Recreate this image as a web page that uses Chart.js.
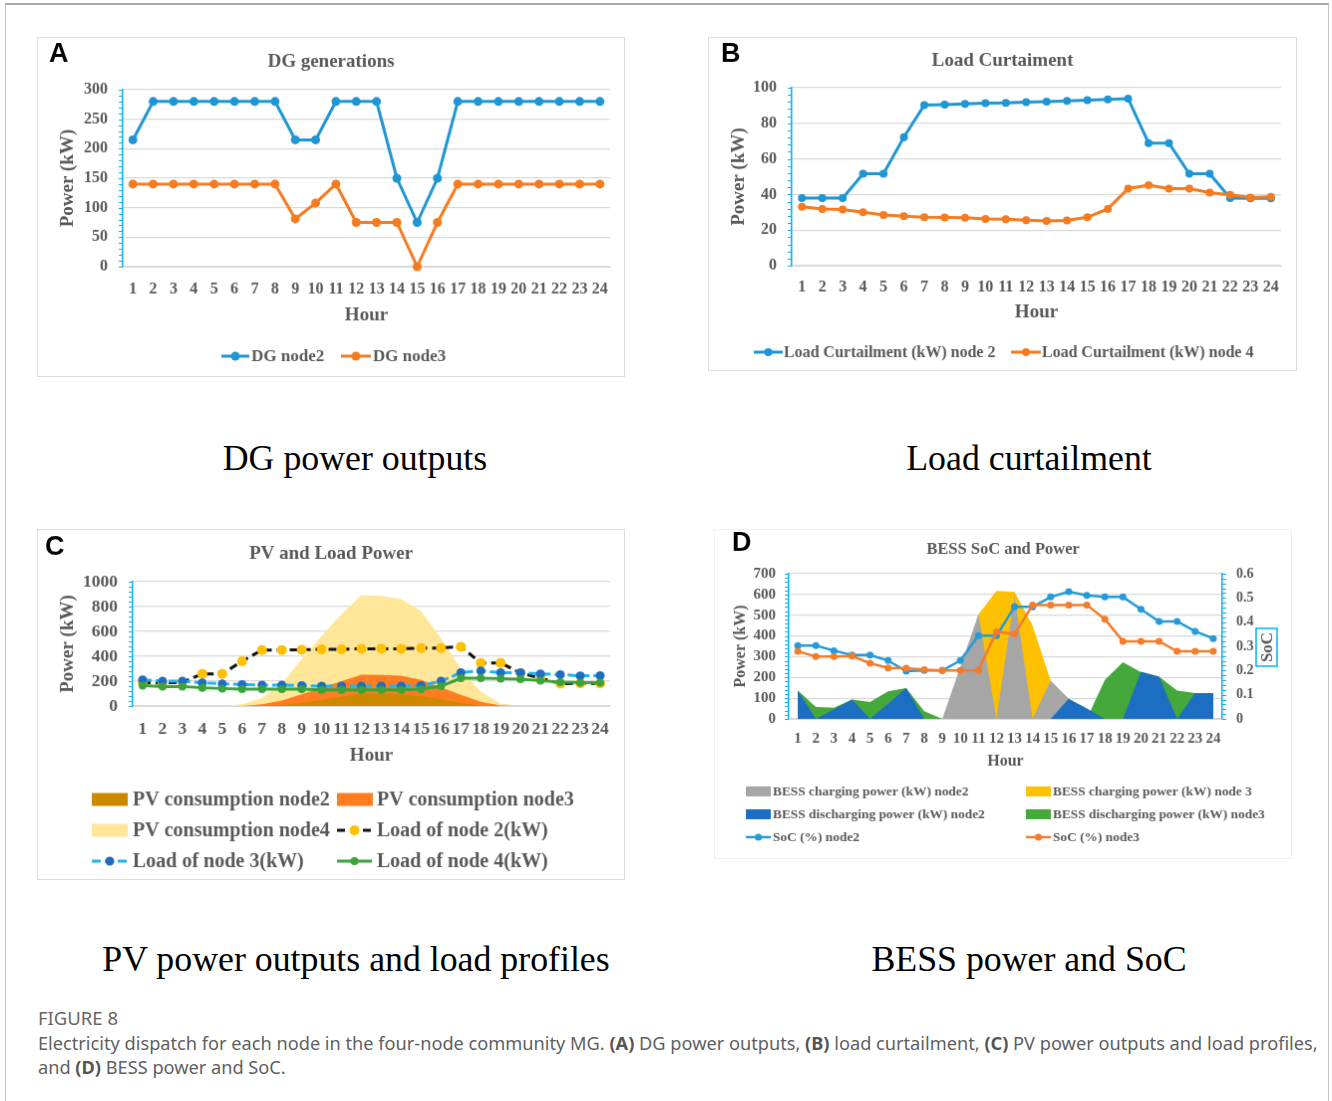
<!DOCTYPE html>
<html lang="en">
<head>
  <meta charset="UTF-8">
  <title>Electricity dispatch - four-node community MG</title>
  <script src="https://cdn.jsdelivr.net/npm/chart.js"></script>
  <style>
    body { margin: 0; background: #fff; font-family: "Liberation Serif", "Times New Roman", serif; }
    .page { position: relative; width: 1332px; height: 1101px; overflow: hidden; }
    .frame { position: absolute; left: 5px; top: 3px; width: 1322px; height: 1110px; border: 1px solid #c4c4c4; border-top: 2px solid #a9a9a9; }
    canvas.panel { position: absolute; border: 1px solid #dcdcdc; }
    #chartD { border-color: #f1f1f1; }
    .sub { position: absolute; font-size: 35.8px; color: #000; white-space: nowrap; transform: translate(-50%, -50%); }
    .caption { position: absolute; left: 38px; top: 1006px; font-family: "Noto Sans", sans-serif; color: #5f5f5f; font-size: 18.2px; line-height: 24.5px; white-space: nowrap; }
    .caption .fig { font-size: 18.5px; color: #666; }
    .caption b { color: #555; }
  </style>
</head>
<body>
<div class="page">
  <div class="frame"></div>

  <canvas id="chartA" class="panel" width="588" height="340" style="left:37px; top:37px"></canvas>
  <canvas id="chartB" class="panel" width="589" height="334" style="left:708px; top:37px"></canvas>
  <canvas id="chartC" class="panel" width="588" height="351" style="left:37px; top:529px"></canvas>
  <canvas id="chartD" class="panel" width="578" height="330" style="left:714px; top:529px"></canvas>

  <div class="sub" style="left:355px; top:458px">DG power outputs</div>
  <div class="sub" style="left:1029px; top:458px">Load curtailment</div>
  <div class="sub" style="left:356px; top:959px">PV power outputs and load profiles</div>
  <div class="sub" style="left:1029px; top:959px">BESS power and SoC</div>

  <div class="caption">
    <div class="fig">FIGURE 8</div>
    <div>Electricity dispatch for each node in the four-node community MG. <b>(A)</b> DG power outputs, <b>(B)</b> load curtailment, <b>(C)</b> PV power outputs and load profiles,</div>
    <div>and <b>(D)</b> BESS power and SoC.</div>
  </div>
</div>

<script>
  // ---- data (hourly, 24 h) ----
  const hours = ['1','2','3','4','5','6','7','8','9','10','11','12','13','14','15','16','17','18','19','20','21','22','23','24'];

  // DG output (kW)
  const dgNode2 = [215,280,280,280,280,280,280,280,215,215,280,280,280,150,75,150,280,280,280,280,280,280,280,280];
  const dgNode3 = [140,140,140,140,140,140,140,140,81,108,140,75,75,75,0,75,140,140,140,140,140,140,140,140];

  // load curtailment (kW)
  const curtNode2 = [38,38,38,51.7,51.7,72.2,90.2,90.5,90.9,91.4,91.5,91.9,92.2,92.6,93,93.5,93.9,68.9,68.9,51.7,51.7,38,37.8,37.8];
  const curtNode4 = [33.1,31.9,31.5,30,28.5,27.8,27.2,27.1,27,26.3,26.1,25.6,25.2,25.4,27.2,31.9,43.3,45.2,43.3,43.3,41.1,39.8,38.3,38.7];

  // PV consumption and load (kW)
  const pvNode2 = [0,0,0,0,0,0,0,10,25,48,75,100,100,95,80,55,25,0,0,0,0,0,0,0];
  const pvNode3 = [0,0,0,0,0,0,15,45,95,150,200,252,250,245,210,150,90,35,5,0,0,0,0,0];
  const pvNode4 = [0,0,0,0,0,15,65,180,380,565,740,893,887,860,765,545,300,117,20,0,0,0,0,0];
  const loadNode2 = [188,186,190,259,259,360,451,451,453,456,456,461,461,461,467,467,477,347,347,265,225,180,182,182];
  const loadNode3 = [211,200,200,187,179,173,168,168,165,160,160,160,160,160,165,200,269,283,269,269,259,253,243,245];
  const loadNode4 = [165,157,157,147,141,136,136,136,136,131,131,131,131,131,136,160,224,224,221,216,205,192,189,189];

  // BESS power (kW) and state of charge
  const chargeNode2 = [0,0,0,0,0,0,0,0,0,252,505,0,590,0,185,97,0,0,0,0,0,0,0,0];
  const chargeNode3 = [0,0,0,0,0,0,0,0,0,0,505,617,612,449,185,0,0,0,0,0,0,0,0,0];
  const dischargeNode2 = [137,0,45,93,0,73,149,0,0,0,0,0,0,0,0,97,50,0,0,228,204,0,125,125];
  const dischargeNode3 = [137,57,54,93,81,133,149,37,0,0,0,0,0,0,0,0,0,188,273,225,204,137,125,125];
  const socNode2 = [0.303,0.303,0.282,0.264,0.264,0.241,0.197,0.2,0.2,0.241,0.344,0.344,0.463,0.463,0.504,0.526,0.511,0.504,0.504,0.453,0.403,0.403,0.362,0.332];
  const socNode3 = [0.279,0.258,0.258,0.26,0.23,0.211,0.21,0.203,0.2,0.2,0.2,0.36,0.351,0.471,0.471,0.471,0.471,0.412,0.321,0.321,0.321,0.279,0.279,0.279];

  // ---- styling helpers ----
  const SERIF = '"Liberation Serif", "Times New Roman", serif';
  const GREY = '#595959';
  const CYAN = '#00b0f0';
  const GRID = '#d9d9d9';

  Chart.defaults.font.family = SERIF;
  Chart.defaults.animation = false;

  function bold(size) { return { family: SERIF, size: size, weight: 'bold' }; }

  function hourAxis(o) {
    return {
      offset: true,
      grid: { display: false, drawTicks: false },
      border: { color: GRID, width: 1 },
      ticks: { color: GREY, font: bold(o.tick), padding: o.tickPad, autoSkip: false, maxRotation: 0 },
      title: { display: true, text: 'Hour', color: GREY, font: bold(o.title), padding: { top: 0, bottom: o.titlePad } },
      afterFit: s => { s.height = o.height; }
    };
  }

  function valueAxis(o) {
    return {
      position: o.position || 'left',
      min: 0, max: o.max,
      ticks: {
        stepSize: o.step, color: GREY, font: bold(o.tick), padding: o.tickPad, autoSkip: false,
        callback: v => String(Math.round(v * 10) / 10)
      },
      grid: { display: o.grid !== false, color: GRID, lineWidth: 1.2, drawTicks: false },
      border: { color: CYAN, width: 1.5 },
      title: { display: !!o.title, text: o.title || '', color: GREY, font: bold(o.titleSize || 19), padding: { top: o.titlePad || 0, bottom: 0 } },
      afterFit: s => { s.width = o.width; }
    };
  }

  function lineSet(label, data, color, o) {
    o = o || {};
    const mk = o.marker || color;
    return {
      type: 'line', label: label, data: data,
      borderColor: color, backgroundColor: mk,
      pointBackgroundColor: mk, pointBorderColor: mk, pointBorderWidth: 0,
      borderWidth: o.width || 3, pointRadius: o.radius || 4, borderDash: o.dash || [],
      tension: 0, fill: false, clip: false, order: o.order || 0, yAxisID: o.axis || 'y'
    };
  }

  function areaSet(label, data, color, order) {
    return {
      type: 'line', label: label, data: data,
      borderColor: color, backgroundColor: color, borderWidth: 0,
      pointRadius: 0, fill: 'origin', tension: 0, clip: false, order: order, yAxisID: 'y'
    };
  }

  // panel letter, title, axis minor ticks, SoC box and the grid legend
  const panelDecor = {
    id: 'panelDecor',
    afterDraw(chart, args, opts) {
      const ctx = chart.ctx;
      ctx.save();

      ctx.fillStyle = '#000';
      ctx.font = 'bold 27px "Liberation Sans", Arial, sans-serif';
      ctx.textAlign = 'left';
      ctx.textBaseline = 'alphabetic';
      ctx.fillText(opts.letter, opts.letterX, opts.letterY);

      ctx.fillStyle = GREY;
      ctx.font = 'bold ' + opts.titleSize + 'px ' + SERIF;
      ctx.textAlign = 'center';
      ctx.textBaseline = 'middle';
      ctx.fillText(opts.title, chart.width / 2, opts.titleY);

      // small ticks along the value axes
      (opts.minor || []).forEach(m => {
        const s = chart.scales[m.axis];
        const step = s.ticks[1].value - s.ticks[0].value;
        const x = m.side === 'left' ? chart.chartArea.left : chart.chartArea.right;
        const dir = m.side === 'left' ? -1 : 1;
        ctx.beginPath();
        ctx.strokeStyle = CYAN;
        ctx.lineWidth = 1;
        ctx.setLineDash([]);
        const n = Math.round((s.max - s.min) / step) * 5;
        for (let i = 0; i <= n; i++) {
          const y = Math.round(s.getPixelForValue(s.min + i * step / 5)) + 0.5;
          ctx.moveTo(x, y);
          ctx.lineTo(x + dir * 4, y);
        }
        ctx.stroke();
      });

      if (opts.sideTitle) {
        const t = opts.sideTitle;
        ctx.strokeStyle = CYAN;
        ctx.lineWidth = 1.5;
        ctx.strokeRect(t.x - t.w / 2, t.y - t.h / 2, t.w, t.h);
        ctx.translate(t.x, t.y);
        ctx.rotate(-Math.PI / 2);
        ctx.fillStyle = GREY;
        ctx.font = 'bold ' + t.size + 'px ' + SERIF;
        ctx.fillText(t.text, 0, 1);
        ctx.setTransform(1, 0, 0, 1, 0, 0);
      }

      const lg = opts.legend;
      ctx.font = 'bold ' + lg.size + 'px ' + SERIF;
      ctx.textAlign = 'left';
      ctx.textBaseline = 'middle';
      lg.items.forEach(it => {
        const ds = chart.data.datasets[it.ds];
        if (ds.fill) {
          ctx.fillStyle = ds.backgroundColor;
          ctx.fillRect(it.x, it.y - lg.boxH / 2, it.w, lg.boxH);
        } else {
          ctx.beginPath();
          ctx.strokeStyle = ds.borderColor;
          ctx.lineWidth = ds.borderWidth;
          ctx.setLineDash(ds.borderDash || []);
          ctx.moveTo(it.x, it.y);
          ctx.lineTo(it.x + it.w, it.y);
          ctx.stroke();
          ctx.setLineDash([]);
          ctx.beginPath();
          ctx.fillStyle = ds.pointBackgroundColor;
          ctx.arc(it.x + it.w / 2, it.y, ds.pointRadius, 0, Math.PI * 2);
          ctx.fill();
        }
        ctx.fillStyle = GREY;
        ctx.fillText(ds.label, it.tx, it.y + 1);
      });

      ctx.restore();
    }
  };

  const baseOptions = {
    responsive: false,
    plugins: { legend: { display: false }, tooltip: { enabled: false } }
  };

  // ---- A: DG generations ----
  new Chart(document.getElementById('chartA'), {
    type: 'line',
    data: {
      labels: hours,
      datasets: [
        lineSet('DG node2', dgNode2, '#1f96d4', { radius: 4.5, order: 1 }),
        lineSet('DG node3', dgNode3, '#f57b20', { radius: 4.5, order: 0 })
      ]
    },
    options: Object.assign({}, baseOptions, {
      layout: { padding: { top: 52, right: 14, bottom: 50, left: 0 } },
      scales: {
        x: hourAxis({ tick: 16, tickPad: 13, title: 19, titlePad: 0, height: 60 }),
        y: valueAxis({ max: 300, step: 50, tick: 16, tickPad: 15, title: 'Power (kW)', titleSize: 19, titlePad: 18.6, width: 85 })
      },
      plugins: Object.assign({}, baseOptions.plugins, {
        panelDecor: {
          letter: 'A', letterX: 11, letterY: 24,
          title: 'DG generations', titleSize: 19, titleY: 24,
          minor: [{ axis: 'y', side: 'left' }],
          legend: { size: 17, boxH: 12, items: [
            { ds: 0, x: 184, y: 320, w: 28, tx: 214 },
            { ds: 1, x: 304, y: 320, w: 30, tx: 336 }
          ] }
        }
      })
    }),
    plugins: [panelDecor]
  });

  // ---- B: load curtailment ----
  new Chart(document.getElementById('chartB'), {
    type: 'line',
    data: {
      labels: hours,
      datasets: [
        lineSet('Load Curtailment (kW) node 2', curtNode2, '#1f96d4', { radius: 4, order: 1 }),
        lineSet('Load Curtailment (kW) node 4', curtNode4, '#f57b20', { radius: 4, order: 0 })
      ]
    },
    options: Object.assign({}, baseOptions, {
      layout: { padding: { top: 50, right: 15, bottom: 45, left: 0 } },
      scales: {
        x: hourAxis({ tick: 16, tickPad: 12.4, title: 19, titlePad: 1.6, height: 60 }),
        y: valueAxis({ max: 100, step: 20, tick: 16, tickPad: 15, title: 'Power (kW)', titleSize: 19, titlePad: 18.6, width: 83 })
      },
      plugins: Object.assign({}, baseOptions.plugins, {
        panelDecor: {
          letter: 'B', letterX: 12, letterY: 24,
          title: 'Load Curtaiment', titleSize: 19, titleY: 23,
          minor: [{ axis: 'y', side: 'left' }],
          legend: { size: 16, boxH: 12, items: [
            { ds: 0, x: 45, y: 316, w: 29, tx: 75 },
            { ds: 1, x: 303, y: 316, w: 30, tx: 334 }
          ] }
        }
      })
    }),
    plugins: [panelDecor]
  });

  // ---- C: PV and load power ----
  new Chart(document.getElementById('chartC'), {
    type: 'line',
    data: {
      labels: hours,
      datasets: [
        areaSet('PV consumption node2', pvNode2, '#cc8900', 3),
        areaSet('PV consumption node3', pvNode3, '#ff7c1f', 4),
        areaSet('PV consumption node4', pvNode4, '#ffe699', 5),
        lineSet('Load of node 2(kW)', loadNode2, '#111111', { marker: '#ffc000', radius: 5, dash: [8, 5], order: 2 }),
        lineSet('Load of node 3(kW)', loadNode3, '#1eb4f0', { marker: '#1f6cc2', radius: 4.5, dash: [9, 4], order: 1 }),
        lineSet('Load of node 4(kW)', loadNode4, '#3ba33a', { radius: 4, order: 0 })
      ]
    },
    options: Object.assign({}, baseOptions, {
      layout: { padding: { top: 52, right: 14, bottom: 112.6, left: 0 } },
      scales: {
        x: hourAxis({ tick: 17.5, tickPad: 12.5, title: 19, titlePad: 0, height: 61.4 }),
        y: valueAxis({ max: 1000, step: 200, tick: 17.5, tickPad: 15, title: 'Power (kW)', titleSize: 19, titlePad: 18.6, width: 95 })
      },
      plugins: Object.assign({}, baseOptions.plugins, {
        panelDecor: {
          letter: 'C', letterX: 7, letterY: 25,
          title: 'PV and Load Power', titleSize: 19, titleY: 24,
          minor: [{ axis: 'y', side: 'left' }],
          legend: { size: 20, boxH: 13, items: [
            { ds: 0, x: 54, y: 271, w: 36, tx: 95 },
            { ds: 1, x: 300, y: 271, w: 36, tx: 340 },
            { ds: 2, x: 54, y: 302, w: 36, tx: 95 },
            { ds: 3, x: 300, y: 302, w: 35, tx: 340 },
            { ds: 4, x: 54, y: 333, w: 36, tx: 95 },
            { ds: 5, x: 300, y: 333, w: 35, tx: 340 }
          ] }
        }
      })
    }),
    plugins: [panelDecor]
  });

  // ---- D: BESS SoC and power ----
  new Chart(document.getElementById('chartD'), {
    type: 'line',
    data: {
      labels: hours,
      datasets: [
        areaSet('BESS charging power (kW) node2', chargeNode2, '#a6a6a6', 4),
        areaSet('BESS charging power (kW) node 3', chargeNode3, '#ffc000', 5),
        areaSet('BESS discharging power (kW) node2', dischargeNode2, '#1b6ec2', 2),
        areaSet('BESS discharging power (kW) node3', dischargeNode3, '#45a83a', 3),
        lineSet('SoC (%) node2', socNode2, '#249bd8', { radius: 3.5, width: 2.5, order: 1, axis: 'y1' }),
        lineSet('SoC (%) node3', socNode3, '#f47c2b', { radius: 3.5, width: 2.5, order: 0, axis: 'y1' })
      ]
    },
    options: Object.assign({}, baseOptions, {
      layout: { padding: { top: 44, right: 14, bottom: 85, left: 0 } },
      scales: {
        x: hourAxis({ tick: 15, tickPad: 11, title: 16, titlePad: 2.4, height: 55 }),
        y: valueAxis({ max: 700, step: 100, tick: 15, tickPad: 13, title: 'Power (kW)', titleSize: 16, titlePad: 16.4, width: 74 }),
        y1: valueAxis({ position: 'right', max: 0.6, step: 0.1, tick: 14, tickPad: 14, grid: false, width: 55 })
      },
      plugins: Object.assign({}, baseOptions.plugins, {
        panelDecor: {
          letter: 'D', letterX: 17, letterY: 21,
          title: 'BESS SoC and Power', titleSize: 16.5, titleY: 20,
          minor: [{ axis: 'y', side: 'left' }, { axis: 'y1', side: 'right' }],
          sideTitle: { text: 'SoC', x: 553.5, y: 118, w: 21, h: 38, size: 17 },
          legend: { size: 13.4, boxH: 10, items: [
            { ds: 0, x: 31, y: 263, w: 25, tx: 58 },
            { ds: 1, x: 312, y: 263, w: 25, tx: 339 },
            { ds: 2, x: 31, y: 286, w: 25, tx: 58 },
            { ds: 3, x: 312, y: 286, w: 25, tx: 339 },
            { ds: 4, x: 31, y: 309, w: 25, tx: 58 },
            { ds: 5, x: 312, y: 309, w: 25, tx: 339 }
          ] }
        }
      })
    }),
    plugins: [panelDecor]
  });
</script>
</body>
</html>
